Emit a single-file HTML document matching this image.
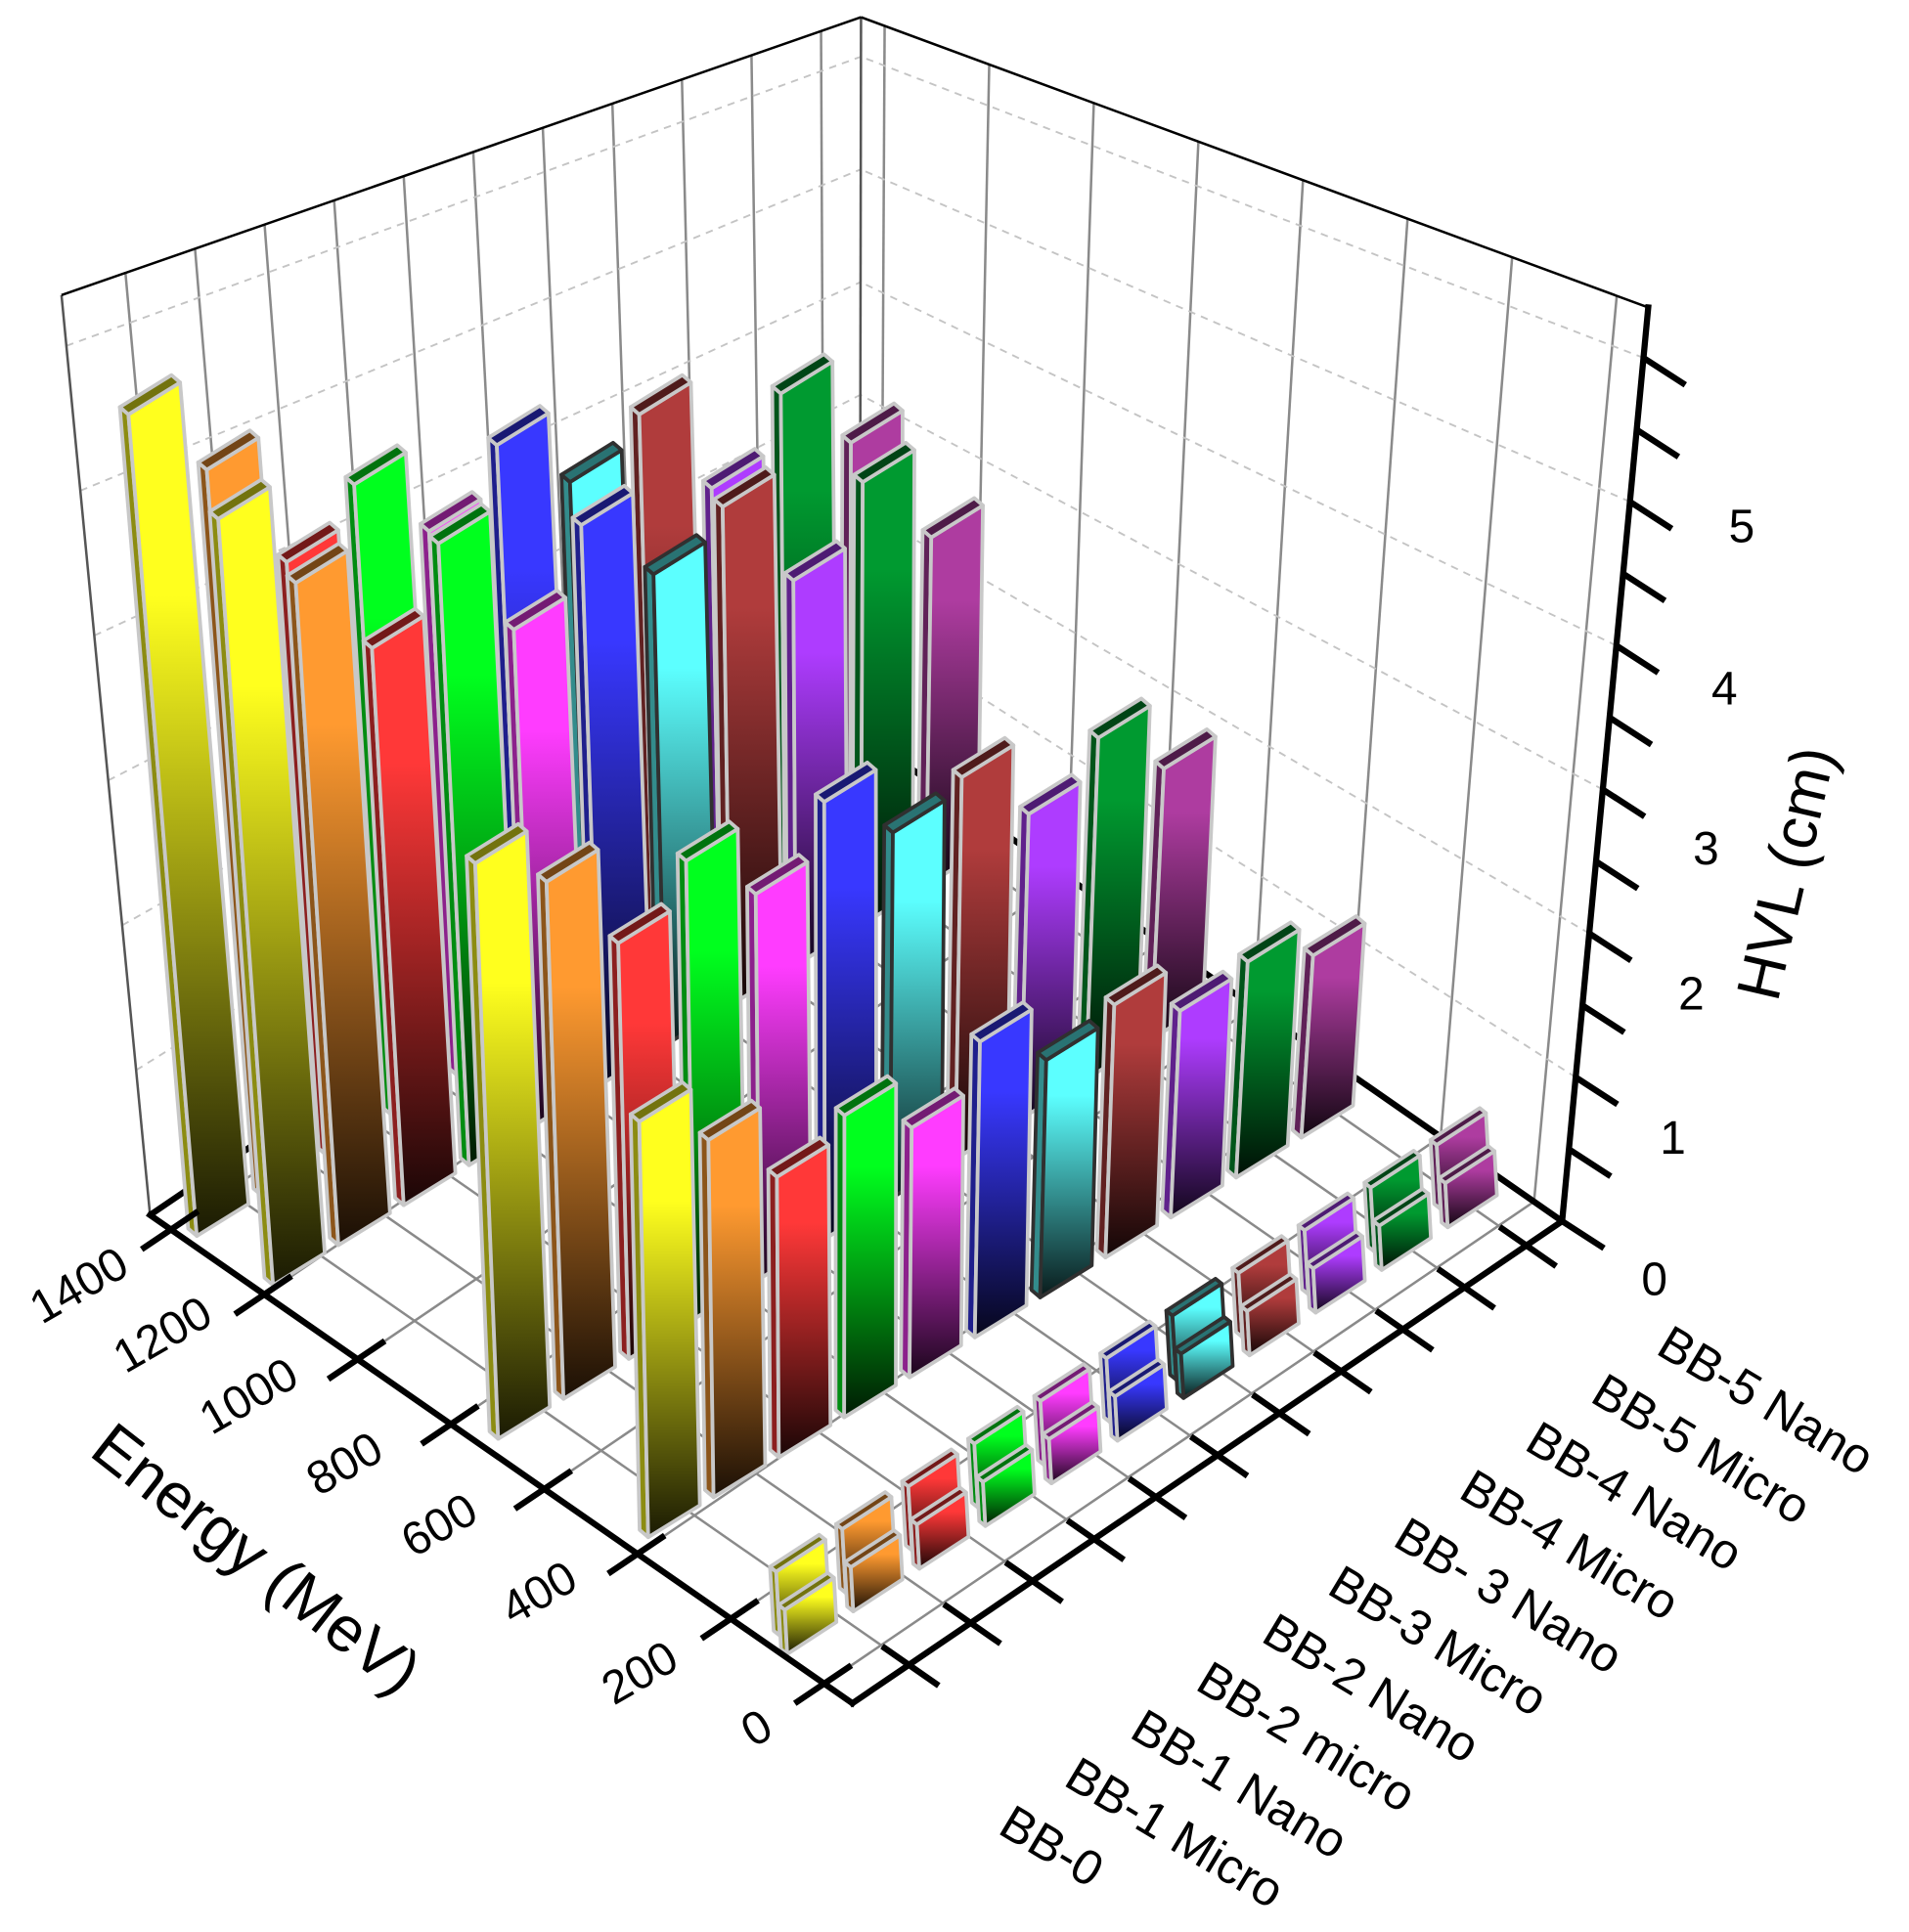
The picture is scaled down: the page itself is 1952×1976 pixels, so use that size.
<!DOCTYPE html>
<html><head><meta charset="utf-8">
<style>html,body{margin:0;padding:0;background:#fff}svg{display:block}text{font-family:"Liberation Sans",Arial,sans-serif;fill:#000}</style>
</head><body>
<svg id="s" width="1952" height="1976" viewBox="0 0 1552 1571" preserveAspectRatio="none" xmlns="http://www.w3.org/2000/svg">
<defs id="d"></defs>
<g id="grid"></g>
<g id="bars"></g>
<g id="axes"></g>
<g id="labels">
<text x="615" y="1418" font-size="38" text-anchor="middle" transform="rotate(-30 615 1405)">0</text>
<text x="520" y="1373" font-size="38" text-anchor="middle" transform="rotate(-30 520 1360)">200</text>
<text x="438" y="1308" font-size="38" text-anchor="middle" transform="rotate(-30 438 1295)">400</text>
<text x="357" y="1253" font-size="38" text-anchor="middle" transform="rotate(-30 357 1240)">600</text>
<text x="280" y="1203" font-size="38" text-anchor="middle" transform="rotate(-30 280 1190)">800</text>
<text x="202" y="1148" font-size="38" text-anchor="middle" transform="rotate(-30 202 1135)">1000</text>
<text x="132" y="1098" font-size="38" text-anchor="middle" transform="rotate(-30 132 1085)">1200</text>
<text x="64" y="1058" font-size="38" text-anchor="middle" transform="rotate(-30 64 1045)">1400</text>
<text x="208" y="1285" font-size="52" text-anchor="middle" transform="rotate(38 208 1268)">Energy (MeV)</text>
<text x="1452" y="727" font-size="50" text-anchor="middle" transform="rotate(-77 1452 710)">HVL (cm)</text>
<text x="1345" y="1053" font-size="38" text-anchor="middle">0</text>
<text x="1360" y="938" font-size="38" text-anchor="middle">1</text>
<text x="1375" y="821" font-size="38" text-anchor="middle">2</text>
<text x="1387" y="703" font-size="38" text-anchor="middle">3</text>
<text x="1402" y="573" font-size="38" text-anchor="middle">4</text>
<text x="1416" y="441" font-size="38" text-anchor="middle">5</text>
</g>
<g id="slab" font-size="40"></g>
</svg>
<script>
const NS="http://www.w3.org/2000/svg";
function el(t,a,p){const e=document.createElementNS(NS,t);for(const k in a)e.setAttribute(k,a[k]);p.appendChild(e);return e;}
const F=[693,1385],L=[122,988],R=[1270,993],ZMAX=6.35;
function fl(u,v){return [F[0]+u*(L[0]-F[0])+v*(R[0]-F[0]),F[1]+u*(L[1]-F[1])+v*(R[1]-F[1])];}
function Hv(u,v){return [-3-69*u+73*v,-909+161*u+166*v];}
function pt(u,v,z){const p=fl(u,v),h=Hv(u,v),t=z/ZMAX;return [p[0]+t*h[0],p[1]+t*h[1]];}
function ln(a,b,g,st){return el('line',Object.assign({x1:a[0],y1:a[1],x2:b[0],y2:b[1]},st),g);}
const grid=document.getElementById('grid'),axes=document.getElementById('axes'),bars=document.getElementById('bars'),defs=document.getElementById('d');
const uE=E=>0.04+0.93*E/1400;
const vS=i=>0.08+0.087*i;
const gs={stroke:'#8a8a8a','stroke-width':2};
const gd={stroke:'#c4c4c4','stroke-width':1.5,'stroke-dasharray':'6 5'};
for(let E=0;E<=1400;E+=200){ln(fl(uE(E),0),fl(uE(E),1),grid,gs);}
for(let i=0;i<11;i++){ln(fl(0,vS(i)),fl(1,vS(i)),grid,gs);}
for(let i=0;i<11;i++){ln(pt(1,vS(i),0),pt(1,vS(i),ZMAX),grid,gs);}
for(let E=0;E<=1400;E+=200){ln(pt(uE(E),1,0),pt(uE(E),1,ZMAX),grid,gs);}
for(let z=1;z<=6;z++){ln(pt(0,1,z),pt(1,1,z),grid,gd);ln(pt(1,0,z),pt(1,1,z),grid,gd);}
const es={stroke:'#555','stroke-width':2};
ln(pt(1,0,0),pt(1,0,ZMAX),grid,es);ln(pt(1,1,0),pt(1,1,ZMAX),grid,es);
ln(pt(1,0,ZMAX),pt(1,1,ZMAX),grid,{stroke:'#000','stroke-width':2});
ln(pt(1,1,ZMAX),pt(0,1,ZMAX),grid,{stroke:'#000','stroke-width':2});
ln(pt(0,1,0),pt(1,1,0),grid,{stroke:'#000','stroke-width':5});
ln(pt(1,0,0),pt(1,1,0),grid,{stroke:'#000','stroke-width':5});

const cols=['#ffff1e','#ff9a30','#ff3838','#00ff1e','#ff3cff','#3838ff','#5cffff','#b03c3c','#ae3cff','#009a30','#ae3ca0'];
function dark(c,f){const n=parseInt(c.slice(1),16);const r=(n>>16)&255,g=(n>>8)&255,b=n&255;return 'rgb('+Math.round(r*f)+','+Math.round(g*f)+','+Math.round(b*f)+')';}
cols.forEach((c,i)=>{const g=el('linearGradient',{id:'g'+i,x1:0,y1:0,x2:0,y2:1},defs);
el('stop',{offset:'0','stop-color':c},g);el('stop',{offset:'0.25','stop-color':c},g);el('stop',{offset:'1','stop-color':dark(c,0.1)},g);});
function P(a){return a.map(p=>p[0].toFixed(1)+','+p[1].toFixed(1)).join(' ');}
function bar(bl,w,d,h,lean,i){
 const br=[bl[0]+w[0],bl[1]+w[1]];
 const tl=[bl[0]+lean,bl[1]-h],tr=[br[0]+lean,br[1]-h];
 const stroke=i==6?'#303030':'#c8c8c8';
 const sa={stroke:stroke,'stroke-width':3,'stroke-linejoin':'round'};
 el('polygon',Object.assign({points:P([bl,[bl[0]+d[0],bl[1]+d[1]],[tl[0]+d[0],tl[1]+d[1]],tl]),fill:dark(cols[i],0.55)},sa),bars);
 el('polygon',Object.assign({points:P([bl,br,tr,tl]),fill:'url(#g'+i+')'},sa),bars);
 el('polygon',Object.assign({points:P([tl,tr,[tr[0]+d[0],tr[1]+d[1]],[tl[0]+d[0],tl[1]+d[1]]]),fill:dark(cols[i],0.45)},sa),bars);
}
const SH=22;
const rows=[
 {b:[160,1005],u:0.939,t:[315,360,435,372,410,340,370,315,375,298,338]},
 {b:[222,1045],u:0.831,t:[400,452,505,420,490,405,445,390,450,370,415]},
 {b:[405,1170],u:0.513,t:[680,695,745,678,705,630,655,610,640,578,603]},
 {b:[527,1250],u:0.306,t:[890,905,935,885,895,825,840,795,800,760,755]}
];
const step=[53.1,-32.5],W=[42,-26],D=[-7,-6];
rows.forEach(r=>{
 for(let i=10;i>=0;i--){
  const bl=[r.b[0]+step[0]*i,r.b[1]+step[1]*i];
  const h=bl[1]-(r.t[i]+SH);const hv=Hv(r.u,vS(i));
  bar(bl,W,D,h,h*hv[0]/(-hv[1]),i);
 }
});
const ts=[53.7,-34.7];
for(let i=10;i>=0;i--){const bl=[640+ts[0]*i-6,1345+ts[1]*i-15];bar(bl,[40,-26],[-5,-4],52,-3,i);}
for(let i=10;i>=0;i--){const bl=[640+ts[0]*i,1345+ts[1]*i];bar(bl,[40,-26],[-5,-4],36,-2,i);}

const ax={stroke:'#000','stroke-width':5,'stroke-linecap':'square'};
ln(F,L,axes,ax);ln(F,R,axes,ax);ln(R,pt(0,1,ZMAX),axes,ax);
for(let E=0;E<=1400;E+=200){const p=fl(uE(E),0);ln([p[0]+22,p[1]-15],[p[0]-24,p[1]+16],axes,{stroke:'#000','stroke-width':5});}
for(let i=0;i<11;i++){const p=fl(0,vS(i));ln([p[0]-22,p[1]-15],[p[0]+24,p[1]+17],axes,{stroke:'#000','stroke-width':5});}
for(let z=0;z<=6;z+=0.5){const p=pt(0,1,z);ln(p,[p[0]+34,p[1]+22],axes,{stroke:'#000','stroke-width':5});}

const names=['BB-0','BB-1 Micro','BB-1 Nano','BB-2 micro','BB-2 Nano','BB-3 Micro','BB- 3 Nano','BB-4 Micro','BB-4 Nano','BB-5 Micro','BB-5 Nano'];
const sg=document.getElementById('slab');
names.forEach((n,i)=>{const x=810+53.5*i,y=1490-39*i;const t=el('text',{x:x,y:y,transform:'rotate(31 '+x+' '+y+')'},sg);t.textContent=n;});
</script>
</body></html>
